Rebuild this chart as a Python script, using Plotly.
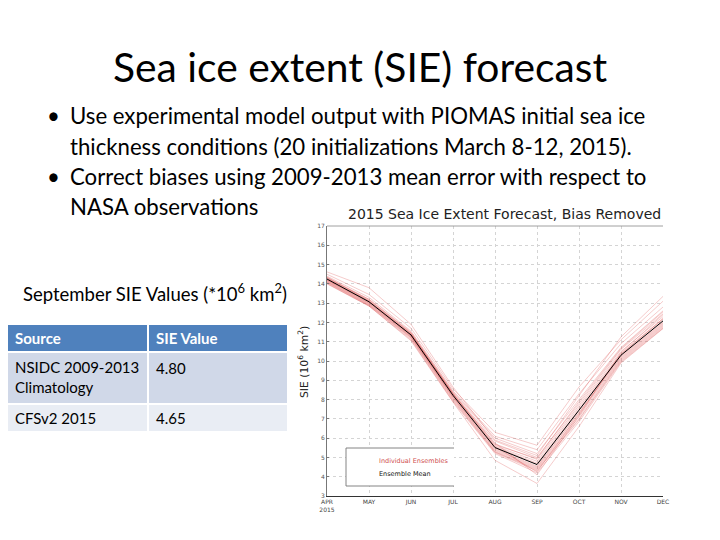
import plotly.graph_objects as go

# ---------------- data ----------------
months = ["APR", "MAY", "JUN", "JUL", "AUG", "SEP", "OCT", "NOV", "DEC"]
month_idx = list(range(len(months)))
y_ticks = list(range(3, 18))

ensemble_mean = [14.25, 13.07, 11.35, 8.22, 5.51, 4.63, 7.45, 10.30, 12.08]

members = [
    [14.62, 13.80, 11.90, 8.65, 5.90, 5.10, 8.20, 11.25, 13.35],
    [14.50, 13.45, 11.70, 8.55, 6.30, 5.63, 8.65, 11.10, 13.10],
    [14.40, 13.30, 11.55, 8.45, 6.10, 5.40, 8.30, 10.90, 12.80],
    [14.35, 13.20, 11.50, 8.40, 6.00, 5.20, 8.00, 10.70, 12.60],
    [14.30, 13.15, 11.45, 8.35, 5.85, 5.00, 7.80, 10.60, 12.45],
    [14.28, 13.10, 11.40, 8.30, 5.70, 4.90, 7.70, 10.50, 12.30],
    [14.25, 13.08, 11.38, 8.25, 5.60, 4.80, 7.60, 10.40, 12.20],
    [14.22, 13.05, 11.35, 8.20, 5.55, 4.70, 7.50, 10.35, 12.15],
    [14.20, 13.02, 11.32, 8.18, 5.50, 4.65, 7.45, 10.30, 12.05],
    [14.18, 13.00, 11.30, 8.15, 5.45, 4.55, 7.35, 10.25, 12.00],
    [14.15, 12.98, 11.28, 8.12, 5.40, 4.50, 7.30, 10.20, 11.95],
    [14.12, 12.95, 11.25, 8.10, 5.35, 4.45, 7.20, 10.15, 11.90],
    [14.10, 12.92, 11.22, 8.05, 5.30, 4.40, 7.10, 10.10, 11.85],
    [14.08, 12.90, 11.20, 8.00, 5.28, 4.35, 7.00, 10.05, 11.80],
    [14.05, 12.88, 11.15, 7.95, 5.25, 4.30, 6.95, 10.00, 11.75],
    [14.02, 12.85, 11.10, 7.90, 5.20, 4.20, 6.85, 9.95, 11.70],
    [14.00, 12.85, 11.05, 7.87, 4.85, 3.65, 6.60, 9.90, 11.68],
    [14.30, 13.20, 11.45, 8.30, 5.75, 4.10, 7.15, 10.45, 12.40],
    [14.20, 13.10, 11.35, 8.28, 5.65, 4.95, 7.90, 10.65, 12.55],
    [14.35, 13.12, 11.42, 8.32, 5.55, 4.25, 7.25, 10.35, 12.20],
]

slide_title = "Sea ice extent (SIE) forecast"
bullet_lines = [
    ("•", "Use experimental model output with PIOMAS initial sea ice"),
    ("", "thickness conditions (20 initializations March 8-12, 2015)."),
    ("•", "Correct biases using 2009-2013 mean error with respect to"),
    ("", "NASA observations"),
]
table_caption = "September SIE Values (*10<sup>6</sup> km<sup>2</sup>)"
table_header = ["Source", "SIE Value"]
table_sources = ["NSIDC 2009-2013<br>Climatology", "CFSv2 2015"]
table_values = ["4.80", "4.65"]

chart_title = "2015 Sea Ice Extent Forecast, Bias Removed"
y_title = "SIE (10<sup>6</sup> km<sup>2</sup>)"
legend_labels = ["Individual Ensembles", "Ensemble Mean"]

# ---------------- figure ----------------
W, H = 720, 540
SLIDE_FONT = "Lato"
member_color = "rgba(220,70,70,0.55)"

fig = go.Figure()
for m in members:
    fig.add_trace(go.Scatter(x=month_idx, y=m, mode="lines",
                             line=dict(color=member_color, width=0.5),
                             hoverinfo="skip", showlegend=False))
fig.add_trace(go.Scatter(x=month_idx, y=ensemble_mean, mode="lines",
                         line=dict(color="black", width=1.0),
                         showlegend=False))

def px(x):
    return x / W

def py(y):
    return 1 - y / H

# plot area in pixels
L, R, T, B = 327, 663, 226, 496

ticktext = [("APR<br>2015" if m == "APR" else m) for m in months]
fig.update_layout(
    width=W, height=H,
    margin=dict(l=0, r=0, t=0, b=0),
    paper_bgcolor="white", plot_bgcolor="white",
    showlegend=False,
    xaxis=dict(domain=[px(L), px(R)], range=[0, len(months) - 1],
               tickmode="array", tickvals=month_idx, ticktext=ticktext,
               tickfont=dict(family="DejaVu Sans", size=6, color="#444"),
               showgrid=True, gridcolor="#d4d4d4", griddash="dot", gridwidth=0.8,
               showline=True, linecolor="#333", linewidth=0.8,
               ticks="", zeroline=False, fixedrange=True, automargin=False),
    yaxis=dict(domain=[py(B), py(T)], range=[3, 17],
               tickmode="array", tickvals=y_ticks,
               tickfont=dict(family="DejaVu Sans", size=6, color="#555"),
               showgrid=True, gridcolor="#d4d4d4", griddash="dot", gridwidth=0.8,
               showline=True, linecolor="#777", linewidth=0.8,
               ticks="inside", ticklen=2, tickcolor="#777",
               zeroline=False, fixedrange=True, automargin=False),
)

shapes = []
# top border of chart
shapes.append(dict(type="line", xref="x domain", yref="y domain", x0=0, x1=1, y0=1, y1=1,
                   line=dict(color="#888", width=0.8)))
# chart legend box (white fill, no right edge)
lx0, lx1, ly0, ly1 = 346, 454, 448, 486
shapes.append(dict(type="rect", xref="paper", yref="paper", x0=px(lx0), x1=px(lx1),
                   y0=py(ly1), y1=py(ly0), fillcolor="white", line=dict(width=0)))
for (xa, ya, xb, yb) in [(lx0, ly0, lx1, ly0), (lx0, ly1, lx1, ly1), (lx0, ly0, lx0, ly1)]:
    shapes.append(dict(type="line", xref="paper", yref="paper", x0=px(xa), x1=px(xb),
                       y0=py(ya), y1=py(yb), line=dict(color="#777", width=0.9)))

# table
tx0, tmid, tx1 = 8, 148, 287
rows = [(325, 351, "#4F81BD"), (353, 403, "#D0D8E8"), (405, 431, "#E9EDF4")]
for (y0, y1, col) in rows:
    shapes.append(dict(type="rect", xref="paper", yref="paper", x0=px(tx0), x1=px(tmid - 1),
                       y0=py(y1), y1=py(y0), fillcolor=col, line=dict(width=0)))
    shapes.append(dict(type="rect", xref="paper", yref="paper", x0=px(tmid + 1), x1=px(tx1),
                       y0=py(y1), y1=py(y0), fillcolor=col, line=dict(width=0)))

annotations = []
# slide title
annotations.append(dict(text=slide_title, x=px(360), y=py(66), xref="paper", yref="paper",
                        xanchor="center", yanchor="middle", showarrow=False,
                        font=dict(family=SLIDE_FONT, size=40.8, color="black")))
# bullets
bullet_y = [115, 147, 177, 206]
for (b, t), yy in zip(bullet_lines, bullet_y):
    if b:
        annotations.append(dict(text=b, x=px(45), y=py(yy), xref="paper", yref="paper",
                                xanchor="left", yanchor="middle", showarrow=False,
                                font=dict(family=SLIDE_FONT, size=22.2, color="black")))
    annotations.append(dict(text=t, x=px(68), y=py(yy), xref="paper", yref="paper",
                            xanchor="left", yanchor="middle", showarrow=False,
                            font=dict(family=SLIDE_FONT, size=22.2, color="black")))
# table caption
annotations.append(dict(text=table_caption, x=px(21), y=py(292), xref="paper", yref="paper",
                        xanchor="left", yanchor="middle", showarrow=False,
                        font=dict(family=SLIDE_FONT, size=18.5, color="black")))
# table header
for txt, xx in zip(table_header, [13, 154]):
    annotations.append(dict(text="<b>" + txt + "</b>", x=px(xx), y=py(338), xref="paper",
                            yref="paper", xanchor="left", yanchor="middle", showarrow=False,
                            font=dict(family=SLIDE_FONT, size=15, color="white")))
# table body
body_pos = [(356, 368), (418, 418)]
for src, val, (ys, yv) in zip(table_sources, table_values, body_pos):
    multi = "<br>" in src
    annotations.append(dict(text=src, x=px(13), y=py(ys), xref="paper", yref="paper",
                            xanchor="left", yanchor="top" if multi else "middle",
                            showarrow=False, align="left",
                            font=dict(family=SLIDE_FONT, size=15, color="black")))
    annotations.append(dict(text=val, x=px(154), y=py(yv), xref="paper", yref="paper",
                            xanchor="left", yanchor="middle", showarrow=False,
                            font=dict(family=SLIDE_FONT, size=15, color="black")))

# chart title
annotations.append(dict(text=chart_title, x=px(505), y=py(214), xref="paper", yref="paper",
                        xanchor="center", yanchor="middle", showarrow=False,
                        font=dict(family="DejaVu Sans", size=14, color="#222")))
# y axis title
annotations.append(dict(text=y_title, x=px(303), y=py(362), xref="paper", yref="paper",
                        xanchor="center", yanchor="middle", showarrow=False, textangle=-90,
                        font=dict(family="DejaVu Sans", size=10.8, color="#222")))
# legend labels
annotations.append(dict(text=legend_labels[0], x=px(377), y=py(461), xref="paper", yref="paper",
                        xanchor="left", yanchor="middle", showarrow=False,
                        font=dict(family="DejaVu Sans", size=6.5, color="#d05050")))
annotations.append(dict(text=legend_labels[1], x=px(377), y=py(474), xref="paper", yref="paper",
                        xanchor="left", yanchor="middle", showarrow=False,
                        font=dict(family="DejaVu Sans", size=6.5, color="#111")))

fig.update_layout(shapes=shapes, annotations=annotations)
fig.write_html("out.html",
               config={"displayModeBar": False},
               post_script="document.body.style.margin='0';document.body.style.overflow='hidden';")
